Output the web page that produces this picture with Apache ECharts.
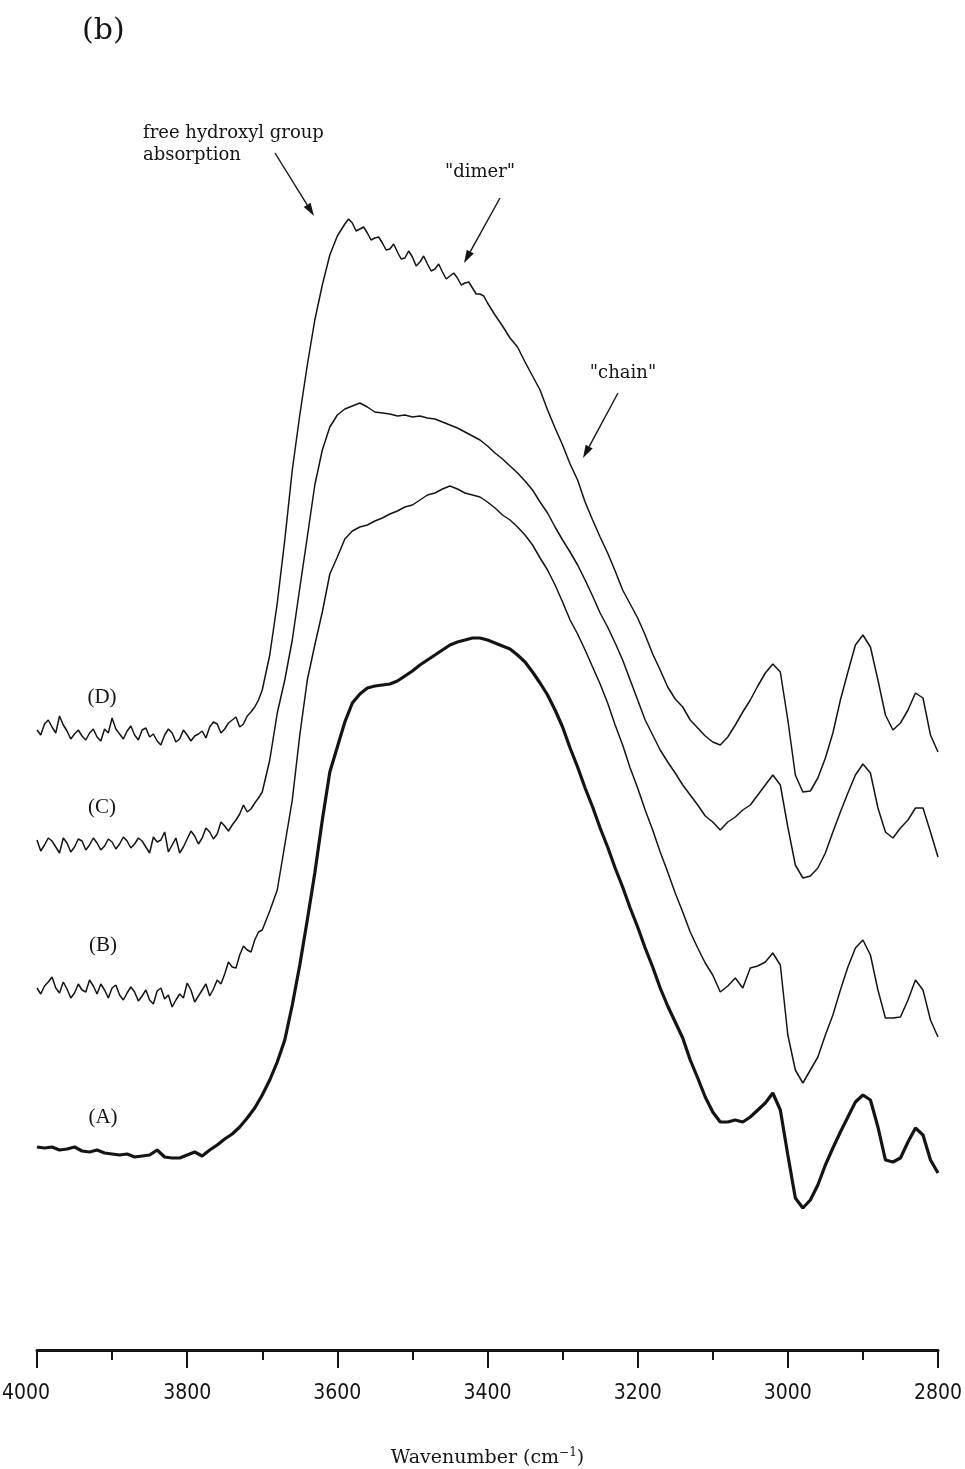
<!DOCTYPE html>
<html>
<head>
<meta charset="utf-8">
<script src="https://cdn.jsdelivr.net/npm/echarts@6/dist/echarts.min.js"></script>
<style>
html,body{margin:0;padding:0;background:#fff;}
#chart{width:965px;height:1469px;}
</style>
</head>
<body>
<div id="chart"></div>
<script>
// Wavenumber sampling (cm-1)
var wavenumbers = [4000,3990,3980,3970,3960,3950,3940,3930,3920,3910,3900,3890,3880,3870,3860,3850,3840,3830,3820,3810,
3800,3790,3780,3770,3760,3750,3740,3730,3720,3710,3700,3690,3680,3670,3660,3650,3640,3630,3620,3610,
3600,3590,3580,3570,3560,3550,3540,3530,3520,3510,3500,3490,3480,3470,3460,3450,3440,3430,3420,3410,
3400,3390,3380,3370,3360,3350,3340,3330,3320,3310,3300,3290,3280,3270,3260,3250,3240,3230,3220,3210,
3200,3190,3180,3170,3160,3150,3140,3130,3120,3110,3100,3090,3080,3070,3060,3050,3040,3030,3020,3010,
3000,2990,2980,2970,2960,2950,2940,2930,2920,2910,2900,2890,2880,2870,2860,2850,2840,2830,2820,2810,2800];

// Offset absorbance traces (arbitrary units x1000)
var seriesA = [203,202,203,200,201,203,199,198,200,197,196,195,196,193,194,195,200,193,192,192,
195,198,194,200,205,211,216,223,232,242,255,270,288,310,345,385,430,477,530,578,
603,628,647,656,662,664,665,666,669,674,679,685,690,695,700,705,708,710,712,712,
710,707,704,701,695,688,678,667,655,640,623,602,583,562,543,522,503,482,463,442,
423,402,383,362,344,328,312,290,272,253,238,228,228,230,228,233,240,247,257,240,
195,152,142,150,165,185,202,218,233,248,255,250,223,190,188,192,208,222,215,190,177];

var seriesB = [362,364,373,357,361,357,360,370,356,360,362,355,357,358,354,350,359,351,343,356,
367,348,360,354,370,376,383,395,400,410,420,439,460,505,550,615,670,705,738,776,
793,811,819,823,825,829,832,836,839,843,845,850,855,857,861,864,861,857,855,853,
848,842,835,830,823,815,805,792,780,765,748,730,716,700,683,666,647,625,605,582,
562,540,520,498,478,457,438,418,402,387,375,358,364,372,362,382,384,388,397,385,
315,280,267,280,293,315,335,360,383,402,410,395,360,332,332,333,350,370,360,330,313];

var seriesC = [510,505,509,497,507,503,509,505,507,504,508,506,509,506,509,497,508,518,505,497,
511,514,512,518,516,524,525,536,538,547,558,590,637,670,710,762,813,865,900,923,
935,941,944,947,943,938,937,936,934,935,933,934,932,931,928,925,922,918,914,910,
904,897,891,884,877,869,860,848,837,823,810,798,785,770,754,737,723,707,690,670,
650,630,615,600,588,577,565,555,545,534,528,520,528,533,540,545,555,565,575,565,
523,485,472,474,482,497,518,538,557,575,586,577,542,518,512,522,530,542,542,518,493];

var seriesD = [620,626,623,634,619,616,614,617,613,621,632,616,619,615,620,613,609,615,617,611,
615,614,619,623,626,621,630,623,634,643,660,695,747,810,880,935,985,1030,1065,1095,
1114,1126,1127,1121,1117,1112,1107,1101,1098,1092,1093,1088,1086,1081,1078,1074,1072,1067,1062,1056,
1047,1035,1024,1012,1003,988,974,960,940,922,905,886,870,848,830,813,797,779,760,746,
732,715,696,680,663,651,643,630,622,614,608,605,613,625,638,650,664,677,686,678,
630,575,558,559,572,592,617,650,678,705,715,703,670,635,620,627,640,657,652,615,598];

// Extra in-between readings of the noisy baselines (cm-1 and values)
var baselineMidWavenumbers = [3995,3985,3975,3965,3955,3945,3935,3925,3915,3905,3895,3885,3875,3865,3855,
3845,3835,3825,3815,3805,3795,3785,3775,3765,3755,3745,3735,3725,3715,3705];
var baselineMidB = [356,368,362,368,352,366,358,364,366,352,365,350,363,349,360,
346,362,355,350,352,360,354,366,361,366,388,382,404,398,418];
var baselineMidC = [499,512,503,512,498,511,500,512,500,511,501,513,502,512,503,
513,510,498,512,503,519,506,522,511,528,519,530,545,541,552];
var baselineMidD = [615,630,617,625,611,620,610,621,609,617,621,611,624,610,622,
616,605,621,608,620,609,616,612,628,617,627,633,626,638,650];

// Extra in-between readings of the (D) band top
var topMidWavenumbers = [3595,3585,3575,3565,3555,3545,3535,3525,3515,3505,3495,3485,3475,3465,3455,3445,3435,3425,3415,3405];
var topMidD = [1120,1131,1119,1123,1110,1113,1100,1106,1091,1099,1084,1094,1079,1086,1071,1077,1065,1068,1056,1054];

var traceNames = ['(A)','(B)','(C)','(D)'];
var xTickLabels = ['4000','3800','3600','3400','3200','3000','2800'];

function buildData(vals, extras){
  var out = [];
  for (var i = 0; i < wavenumbers.length; i++) out.push([wavenumbers[i], vals[i]]);
  (extras || []).forEach(function(e){
    for (var j = 0; j < e[0].length; j++) out.push([e[0][j], e[1][j]]);
  });
  out.sort(function(a,b){ return b[0]-a[0]; });
  return out;
}

var chart = echarts.init(document.getElementById('chart'), null, {renderer:'canvas'});
var ink = '#141414';
var serif = "'DejaVu Serif', serif";
var tnr = "'Liberation Serif', 'Times New Roman', serif";

function arrow(x1,y1,x2,y2){
  var dx = x2-x1, dy = y2-y1, L = Math.sqrt(dx*dx+dy*dy);
  var ux = dx/L, uy = dy/L, hl = 13, hw = 4;
  var bx = x2-ux*hl, by = y2-uy*hl;
  return [
    {type:'line', shape:{x1:x1,y1:y1,x2:bx,y2:by}, style:{stroke:ink, lineWidth:1.4}},
    {type:'polygon', shape:{points:[[x2,y2],[bx-uy*hw,by+ux*hw],[bx+uy*hw,by-ux*hw]]}, style:{fill:ink}}
  ];
}

var graphics = [
  {type:'text', x:82, y:31, style:{text:'(b)', font:'30px ' + serif, fill:ink, textVerticalAlign:'middle'}},
  {type:'text', x:143, y:133, style:{text:'free hydroxyl group', font:'18px ' + serif, fill:ink, textVerticalAlign:'middle'}},
  {type:'text', x:143, y:155, style:{text:'absorption', font:'18px ' + serif, fill:ink, textVerticalAlign:'middle'}},
  {type:'text', x:480, y:172, style:{text:'"dimer"', font:'18px ' + serif, fill:ink, textAlign:'center', textVerticalAlign:'middle'}},
  {type:'text', x:623, y:373, style:{text:'"chain"', font:'18px ' + serif, fill:ink, textAlign:'center', textVerticalAlign:'middle'}},
  {type:'text', x:102, y:697, style:{text:traceNames[3], font:'21px ' + tnr, fill:ink, textAlign:'center', textVerticalAlign:'middle'}},
  {type:'text', x:102, y:807, style:{text:traceNames[2], font:'21px ' + tnr, fill:ink, textAlign:'center', textVerticalAlign:'middle'}},
  {type:'text', x:103, y:945, style:{text:traceNames[1], font:'21px ' + tnr, fill:ink, textAlign:'center', textVerticalAlign:'middle'}},
  {type:'text', x:103, y:1117, style:{text:traceNames[0], font:'21px ' + tnr, fill:ink, textAlign:'center', textVerticalAlign:'middle'}}
].concat(arrow(275,153,314,216), arrow(500,198,464,263), arrow(618,393,583,458));

var tickFont = "'Liberation Sans Narrow', 'DejaVu Sans Condensed', sans-serif";

var option = {
  animation:false,
  backgroundColor:'#ffffff',
  grid:{left:37, right:27, top:100, bottom:119, containLabel:false, outerBoundsMode:'none'},
  xAxis:{
    type:'value', min:2800, max:4000, interval:200, inverse:true,
    axisLine:{show:true, lineStyle:{color:ink, width:3}},
    axisTick:{show:true, length:18, lineStyle:{color:ink, width:2}},
    minorTick:{show:true, splitNumber:2, length:10, lineStyle:{color:ink, width:2}},
    splitLine:{show:false},
    axisLabel:{
      margin:33, color:ink, fontSize:21, fontFamily:tickFont, hideOverlap:false,
      formatter:function(v){
        var s = String(v);
        if (xTickLabels.indexOf(s) < 0) return '';
        return s === xTickLabels[0] ? '{first|' + s + '}' : s;
      },
      rich:{first:{fontSize:21, fontFamily:tickFont, color:ink, padding:[0,22,0,0]}}
    },
    name:'Wavenumber (cm{sup|\u22121})',
    nameLocation:'middle', nameGap:97,
    nameTextStyle:{color:ink, fontSize:19, fontFamily:serif,
      rich:{sup:{fontSize:12, fontFamily:serif, color:ink, verticalAlign:'top', padding:[0,0,10,0]}}}
  },
  yAxis:{type:'value', min:0, max:1250, show:false},
  series:[
    {name:traceNames[0], type:'line', data:buildData(seriesA), showSymbol:false, lineStyle:{color:ink, width:3.2}},
    {name:traceNames[1], type:'line', data:buildData(seriesB, [[baselineMidWavenumbers, baselineMidB]]), showSymbol:false, lineStyle:{color:ink, width:1.5}},
    {name:traceNames[2], type:'line', data:buildData(seriesC, [[baselineMidWavenumbers, baselineMidC]]), showSymbol:false, lineStyle:{color:ink, width:1.5}},
    {name:traceNames[3], type:'line', data:buildData(seriesD, [[baselineMidWavenumbers, baselineMidD],[topMidWavenumbers, topMidD]]), showSymbol:false, lineStyle:{color:ink, width:1.5}}
  ],
  graphic:graphics
};
chart.setOption(option);
</script>
</body>
</html>
